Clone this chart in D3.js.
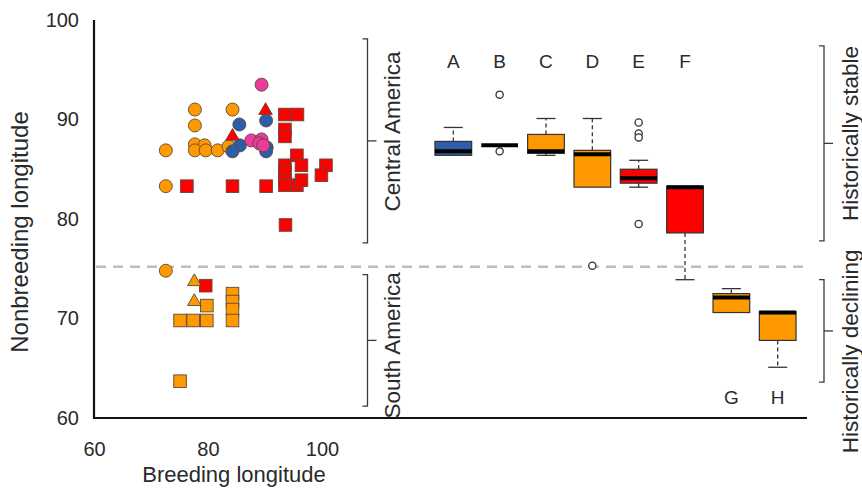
<!DOCTYPE html>
<html>
<head>
<meta charset="utf-8">
<script src="https://cdn.jsdelivr.net/npm/d3@7"></script>
<style>
  html, body { margin: 0; padding: 0; background: #fff; }
  svg text { font-family: "Liberation Sans", Arial, sans-serif; fill: #2a2a2a; }
</style>
</head>
<body>
<svg id="chart" width="862" height="490"></svg>
<script>
// Scatter: breeding vs nonbreeding longitude, grouped by marker shape and colour
const orangeCircles = [[77.7,91.0],[84.3,91.0],[77.7,89.4],[77.7,87.5],[79.4,87.4],[77.7,86.9],[79.6,86.9],[81.7,86.9],[83.6,87.3],[72.6,86.9],[72.6,83.3],[72.6,74.8]];
const blueCircles = [[90.2,89.9],[85.5,89.5],[85.6,87.4],[84.3,86.8],[90.3,87.2],[90.2,86.8]];
const pinkCircles = [[89.4,93.5],[87.6,87.9],[89.4,88.0],[89.0,87.6],[89.7,87.4]];
const redTriangles = [[90.1,90.9],[84.3,88.3]];
const orangeTriangles = [[77.6,73.7],[77.6,71.7]];
const redSquares = [[76.3,83.3],[84.3,83.3],[90.2,83.3],[93.5,90.5],[95.7,90.5],[93.5,89.0],[93.5,88.3],[95.6,86.4],[93.5,85.4],[96.4,85.4],[93.5,84.8],[93.5,83.9],[93.5,83.4],[95.6,83.4],[96.4,83.9],[100.7,85.4],[99.9,84.4],[93.6,79.4],[79.6,73.3]];
const orangeSquares = [[84.3,72.5],[84.3,71.7],[84.3,70.9],[84.3,69.8],[75.1,69.8],[77.4,69.8],[79.8,69.8],[79.8,71.3],[75.1,63.7]];

// Box plots of nonbreeding longitude per group
const boxCats   = ["A","B","C","D","E","F","G","H"];
const boxFill   = ["#2d5ca8","#ff9900","#ff9900","#ff9900","#ff0000","#ff0000","#ff9900","#ff9900"];
const whiskLo   = [86.4, 87.4, 86.4, 83.2, 83.2, 73.9, 70.6, 65.1];
const q1        = [86.4, 87.4, 86.6, 83.2, 83.6, 78.6, 70.6, 67.8];
const medians   = [86.8, 87.4, 86.8, 86.5, 84.1, 83.2, 72.1, 70.6];
const q3        = [87.8, 87.4, 88.5, 86.9, 85.0, 83.3, 72.5, 70.7];
const whiskHi   = [89.2, 87.4, 90.1, 90.1, 85.9, 83.3, 73.0, 70.7];
const outliers  = [[], [92.5, 86.8], [], [75.3], [89.7, 88.6, 88.2, 79.5], [], [], []];
const labelTop  = [true, true, true, true, true, true, false, false];

// Axis ticks and group brackets
const xTicks = [60, 80, 100];
const yTicks = [60, 70, 80, 90, 100];
const divider = 75.2;
const regionBrackets = [
  { label: "Central America", top: 98.1, bottom: 77.6, labelAt: 88.8 },
  { label: "South America",   top: 74.4, bottom: 61.2, labelAt: 67.3 }
];
const trendBrackets = [
  { label: "Historically stable",    top: 97.4, bottom: 77.8, labelAt: 88.6 },
  { label: "Historically declining", top: 73.9, bottom: 63.6, labelAt: 66.7 }
];

const svg = d3.select("#chart");
const x = d3.scaleLinear().domain([60, 185.1]).range([94, 807]);
const y = d3.scaleLinear().domain([60, 100]).range([418, 20]);
const bx = d3.scalePoint().domain(boxCats).range([453.3, 777.7]);
const boxW = 36.7;
const fontFam = "Liberation Sans, Arial, sans-serif";

// Tick labels
const xAxis = svg.append("g").attr("transform", "translate(0,418)")
  .call(d3.axisBottom(x).tickValues(xTicks).tickSize(0).tickPadding(24).tickFormat(d3.format("d")));
xAxis.select(".domain").remove();
xAxis.selectAll("text").attr("font-size", 20).style("font-family", fontFam).attr("fill", "#2a2a2a");

const yAxis = svg.append("g").attr("transform", "translate(94,0)")
  .call(d3.axisLeft(y).tickValues(yTicks).tickSize(0).tickPadding(15).tickFormat(d3.format("d")));
yAxis.select(".domain").remove();
yAxis.selectAll("text").attr("font-size", 20).style("font-family", fontFam).attr("fill", "#2a2a2a");

// Axis titles
svg.append("text").attr("x", 234).attr("y", 482).attr("text-anchor", "middle")
  .attr("font-size", 22).text("Breeding longitude");
svg.append("text").attr("transform", "translate(28,232) rotate(-90)").attr("text-anchor", "middle")
  .attr("font-size", 24).text("Nonbreeding longitude");

// Divider between Central and South America wintering
svg.append("line").attr("x1", x(60) + 2).attr("x2", x(185.1)).attr("y1", y(divider)).attr("y2", y(divider))
  .attr("stroke", "#c4bdb4").attr("stroke-width", 2.5).attr("stroke-dasharray", "10,7");

// Scatter markers
const markerStroke = "#5b4a3c";
function circles(data, fill) {
  svg.append("g").selectAll("circle").data(data).join("circle")
    .attr("cx", d => x(d[0])).attr("cy", d => y(d[1])).attr("r", 6.5)
    .attr("fill", fill).attr("stroke", markerStroke).attr("stroke-width", 0.9);
}
function squares(data, fill) {
  svg.append("g").selectAll("rect").data(data).join("rect")
    .attr("x", d => x(d[0]) - 6.3).attr("y", d => y(d[1]) - 6.3).attr("width", 12.6).attr("height", 12.6)
    .attr("fill", fill).attr("stroke", markerStroke).attr("stroke-width", 0.9);
}
function triangles(data, fill) {
  const tri = d3.symbol().type(d3.symbolTriangle).size(80);
  svg.append("g").selectAll("path").data(data).join("path")
    .attr("transform", d => `translate(${x(d[0])},${y(d[1])})`).attr("d", tri)
    .attr("fill", fill).attr("stroke", markerStroke).attr("stroke-width", 0.9);
}
circles(orangeCircles, "#ff9900");
circles(blueCircles, "#2d5ca8");
circles(pinkCircles, "#ee3a9c");
squares(redSquares, "#ff0000");
squares(orangeSquares, "#ff9900");
triangles(redTriangles, "#ff0000");
triangles(orangeTriangles, "#ff9900");

// Box plots
const boxes = svg.append("g");
boxCats.forEach((c, i) => {
  const cx = bx(c);
  const g = boxes.append("g");
  // whiskers
  g.append("line").attr("x1", cx).attr("x2", cx).attr("y1", y(q3[i])).attr("y2", y(whiskHi[i]))
    .attr("stroke", "#333").attr("stroke-width", 1.3).attr("stroke-dasharray", "4,3");
  g.append("line").attr("x1", cx).attr("x2", cx).attr("y1", y(q1[i])).attr("y2", y(whiskLo[i]))
    .attr("stroke", "#333").attr("stroke-width", 1.3).attr("stroke-dasharray", "4,3");
  if (whiskHi[i] > q3[i]) g.append("line").attr("x1", cx - 9.5).attr("x2", cx + 9.5)
    .attr("y1", y(whiskHi[i])).attr("y2", y(whiskHi[i])).attr("stroke", "#333").attr("stroke-width", 1.3);
  if (whiskLo[i] < q1[i]) g.append("line").attr("x1", cx - 9.5).attr("x2", cx + 9.5)
    .attr("y1", y(whiskLo[i])).attr("y2", y(whiskLo[i])).attr("stroke", "#333").attr("stroke-width", 1.3);
  // box
  if (q3[i] > q1[i]) g.append("rect").attr("x", cx - boxW / 2).attr("width", boxW)
    .attr("y", y(q3[i])).attr("height", y(q1[i]) - y(q3[i]))
    .attr("fill", boxFill[i]).attr("stroke", "#333").attr("stroke-width", 1.2);
  // median
  g.append("line").attr("x1", cx - boxW / 2).attr("x2", cx + boxW / 2)
    .attr("y1", y(medians[i])).attr("y2", y(medians[i])).attr("stroke", "#000").attr("stroke-width", 4);
  // outliers
  g.selectAll("circle").data(outliers[i]).join("circle")
    .attr("cx", cx).attr("cy", d => y(d)).attr("r", 3.6)
    .attr("fill", "#fff").attr("stroke", "#333").attr("stroke-width", 1.3);
  // group letter
  g.append("text").attr("x", cx).attr("y", labelTop[i] ? 68 : 404).attr("text-anchor", "middle")
    .attr("font-size", 19).text(c);
});

// Axis lines
svg.append("line").attr("x1", x(60)).attr("x2", x(60)).attr("y1", y(100)).attr("y2", y(60) + 1)
  .attr("stroke", "#111").attr("stroke-width", 2.2);
svg.append("line").attr("x1", x(60)).attr("x2", x(185.1)).attr("y1", y(60)).attr("y2", y(60))
  .attr("stroke", "#111").attr("stroke-width", 2.2);

// Brackets with a tick at their midpoint
function bracket(b, bxPos, labelX) {
  const g = svg.append("g").attr("fill", "none").attr("stroke", "#3a3a3a").attr("stroke-width", 1.3);
  const yt = y(b.top), yb = y(b.bottom), ym = (yt + yb) / 2;
  g.append("path").attr("d", `M${bxPos - 5},${yt}H${bxPos}V${yb}H${bxPos - 5}`);
  g.append("line").attr("x1", bxPos).attr("x2", bxPos + 9).attr("y1", ym).attr("y2", ym);
  svg.append("text").attr("transform", `translate(${labelX},${y(b.labelAt)}) rotate(-90)`)
    .attr("text-anchor", "middle").attr("dominant-baseline", "central").attr("font-size", 22.5).text(b.label);
}
regionBrackets.forEach(b => bracket(b, 367.5, 392));
trendBrackets.forEach(b => bracket(b, 824, 850));
</script>
</body>
</html>
